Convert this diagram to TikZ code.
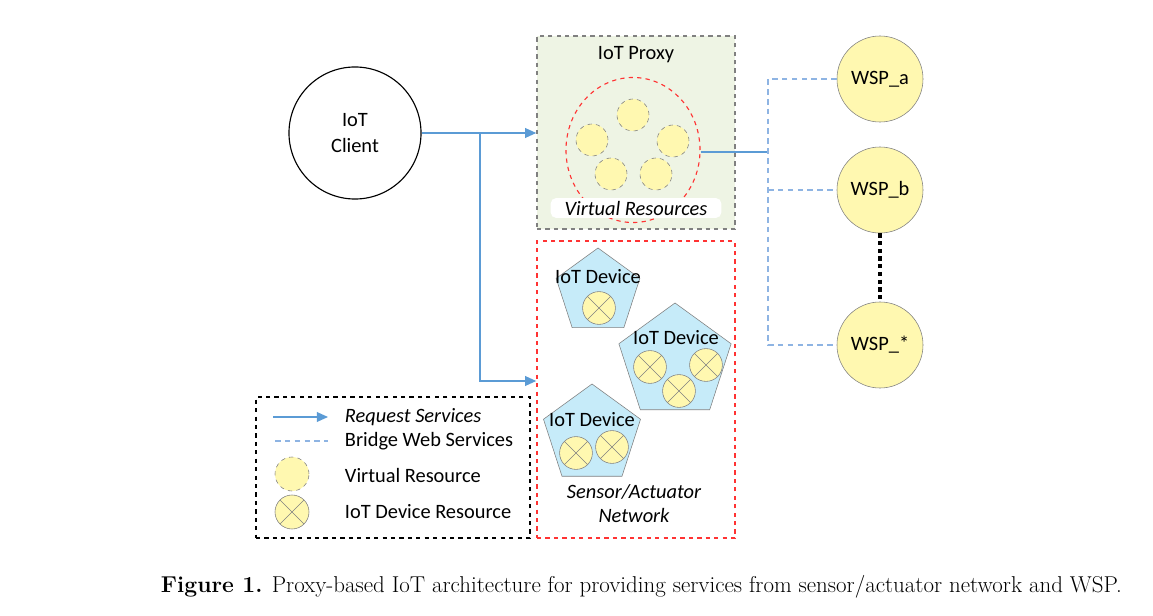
\documentclass[tikz,border=0pt]{standalone}
\usepackage{fontspec}
\newfontfamily\diagfont{Carlito}
\usetikzlibrary{shapes.geometric,arrows.meta}
\definecolor{reqblue}{HTML}{5B9BD5}
\definecolor{bridgeblue}{HTML}{8EB4E3}
\definecolor{proxygreen}{HTML}{EEF4E4}
\definecolor{resyellow}{HTML}{FFF8B0}
\definecolor{devblue}{HTML}{C6EBF9}
\definecolor{netred}{HTML}{FF3333}
\begin{document}
\begin{tikzpicture}[
    x=0.025cm, y=-0.025cm,
    font=\diagfont\fontsize{14.5}{18}\selectfont,
    req/.style={draw=reqblue, line width=1pt, -{Triangle[length=8pt,width=7pt]}},
    bridge/.style={draw=bridgeblue, line width=1pt, dash pattern=on 4pt off 3pt},
    vres/.style={circle, draw=gray, dashed, fill=resyellow, inner sep=0pt, minimum size=0.8cm},
    dres/.style={circle, draw=gray, fill=resyellow, inner sep=0pt, minimum size=0.82cm,
        path picture={\draw[gray] (path picture bounding box.south west) -- (path picture bounding box.north east)
            (path picture bounding box.north west) -- (path picture bounding box.south east);}},
    wsp/.style={circle, draw=gray, fill=resyellow, inner sep=0pt, minimum size=2.15cm},
    device/.style={regular polygon, regular polygon sides=5, draw=gray, fill=devblue, inner sep=0pt}
    ]
    \useasboundingbox (0,0) rectangle (1153,616);
    % client and proxy
    \node (client) [circle, draw, thick, minimum size=3.3cm, align=center] at (355,133) {IoT\\Client};
    \node (proxy) [draw=gray, dashed, line width=1pt, fill=proxygreen, minimum width=4.95cm, minimum height=4.825cm] at (636,132.5) {};
    \node (proxylbl) at (636,55) {IoT Proxy};
    \node (vrs) [ellipse, draw=netred, dashed, thick, minimum width=3.35cm, minimum height=3.625cm] at (633,150) {};
    \node (vr1) [vres] at (633,115) {};
    \node (vr2) [vres] at (592,140) {};
    \node (vr3) [vres] at (673,141) {};
    \node (vr4) [vres] at (611,174) {};
    \node (vr5) [vres] at (656,174) {};
    \node (vrslbl) [fill=white, rounded corners=4pt, inner xsep=10pt, inner ysep=2pt] at (636,208) {\itshape Virtual Resources};
    % sensor/actuator network
    \node (net) [draw=netred, dashed, line width=1pt, minimum width=4.95cm, minimum height=7.425cm] at (636,389.5) {};
    \node (devA) [device, minimum size=2.2cm] at (598,292) {};
    \node (devB) [device, minimum size=2.95cm] at (675,362) {};
    \node (devC) [device, minimum size=2.55cm] at (592,435) {};
    \node (devAlbl) at (598,277) {IoT Device};
    \node (devBlbl) at (676,338) {IoT Device};
    \node (devClbl) at (592,420) {IoT Device};
    \node (dr1) [dres] at (599,308) {};
    \node (dr2) [dres] at (650,367) {};
    \node (dr3) [dres] at (679,391) {};
    \node (dr4) [dres] at (706,365) {};
    \node (dr5) [dres] at (576,453) {};
    \node (dr6) [dres] at (612,447) {};
    \node (netlbl) [align=center, font=\diagfont\fontsize{14.5}{17}\selectfont\itshape] at (634,504) {Sensor/Actuator\\Network};
    % web service providers
    \node (wspa) [wsp] at (880,79) {WSP\_a};
    \node (wspb) [wsp] at (880,190) {WSP\_b};
    \node (wspstar) [wsp] at (880,345) {WSP\_*};
    \coordinate (split) at (480,133);
    \coordinate (hub) at (768,152);
    \draw[req] (client.east) -- (proxy.west |- client.east);
    \draw[req] (split) |- (net.west |- 0,381);
    \draw[draw=reqblue, line width=1pt] (vrs.east |- hub) -- (hub);
    \draw[bridge] (wspa.west) -| (hub |- wspstar) -- (wspstar.west);
    \draw[bridge] (hub |- wspb) -- (wspb.west);
    \draw[line width=3pt, dash pattern=on 3pt off 2.5pt] (wspb.south) -- (wspstar.north);
    % legend
    \node (legend) [draw, dashed, line width=1pt, minimum width=6.85cm, minimum height=3.525cm] at (393,467.5) {};
    \node (lreq) [anchor=west] at (340,417) {\itshape Request Services};
    \node (lbridge) [anchor=west] at (340,441) {Bridge Web Services};
    \node (lvres) [anchor=west] at (340,475) {Virtual Resource};
    \node (ldres) [anchor=west] at (340,512) {IoT Device Resource};
    \coordinate (lreqA) at (273,417);
    \coordinate (lbrA) at (275,441);
    \draw[req] (lreqA) -- (lreq.west -| 328,0);
    \draw[bridge] (lbrA) -- (lbridge.west -| 328,0);
    \node (lvsym) [vres, minimum size=0.85cm] at (292,474) {};
    \node (ldsym) [dres, minimum size=0.85cm] at (292,512) {};
    % caption
    \node (caption) [anchor=west, font=\fontsize{16.3}{19}\selectfont] at (156,587) {\textbf{Figure 1.} Proxy-based IoT architecture for providing services from sensor/actuator network and WSP.};
\end{tikzpicture}
\end{document}
